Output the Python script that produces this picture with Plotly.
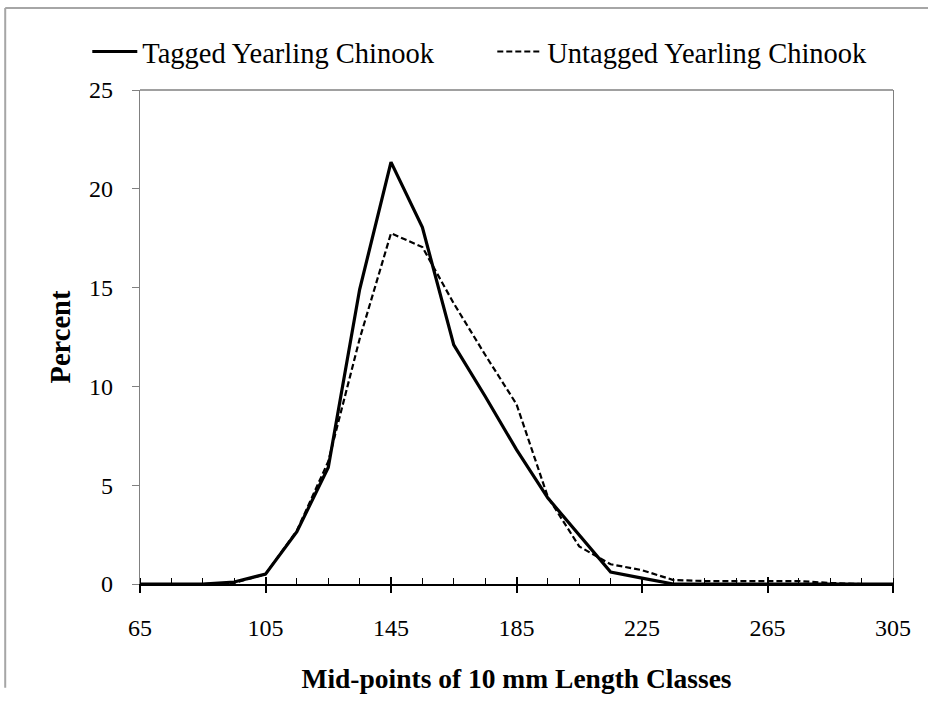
import plotly.graph_objects as go

length_classes = [65, 75, 85, 95, 105, 115, 125, 135, 145, 155, 165, 175, 185,
                  195, 205, 215, 225, 235, 245, 255, 265, 275, 285, 295, 305]
tagged = [0.0, 0.0, 0.0, 0.1, 0.5, 2.65, 5.9, 14.9, 21.35, 18.05, 12.1, 9.5, 6.8,
          4.35, 2.5, 0.6, 0.3, 0.0, 0.0, 0.0, 0.0, 0.0, 0.0, 0.0, 0.0]
untagged = [0.0, 0.0, 0.0, 0.05, 0.5, 2.7, 6.2, 12.4, 17.75, 17.05, 14.2, 11.6, 9.1,
            4.4, 1.9, 1.0, 0.7, 0.2, 0.15, 0.15, 0.15, 0.15, 0.05, 0.0, 0.0]
x_ticks = [65, 105, 145, 185, 225, 265, 305]
y_ticks = [0, 5, 10, 15, 20, 25]

FONT = "Liberation Serif, Times New Roman, serif"

fig = go.Figure()
fig.add_trace(go.Scatter(x=length_classes, y=untagged, mode="lines",
                         name="Untagged Yearling Chinook",
                         line=dict(color="black", width=2.2, dash="6px,3px")))
fig.add_trace(go.Scatter(x=length_classes, y=tagged, mode="lines",
                         name="Tagged Yearling Chinook",
                         line=dict(color="black", width=3.2)))
# invisible trace carrying the inner part of the major ticks
fig.add_trace(go.Scatter(x=[length_classes[0], length_classes[-1]], y=[0, 0],
                         xaxis="x2", mode="lines", line=dict(width=0),
                         showlegend=False, hoverinfo="skip"))

fig.update_layout(
    width=928, height=701,
    paper_bgcolor="white", plot_bgcolor="white",
    margin=dict(l=140, r=35, t=90, b=114),
    font=dict(family=FONT, color="black", size=24),
    legend=dict(orientation="h", x=-0.07, xanchor="left", y=1.077, yanchor="middle",
                font=dict(size=28.5, family=FONT), traceorder="reversed",
                bgcolor="rgba(0,0,0,0)", entrywidth=345, itemwidth=45),
    xaxis=dict(range=[65, 305], tickmode="array", tickvals=x_ticks,
               ticktext=[str(v) for v in x_ticks],
               showgrid=False, zeroline=False, showline=True,
               linecolor="black", linewidth=1.5, mirror=False,
               ticks="outside", ticklen=7, tickcolor="black", tickwidth=1.5,
               ticklabelstandoff=14,
               minor=dict(dtick=10, tick0=65, ticks="inside", ticklen=6,
                          tickcolor="black", tickwidth=1.2),
               title=dict(text="<b>Mid-points of 10 mm Length Classes</b>",
                          font=dict(size=27.5, family=FONT), standoff=29)),
    xaxis2=dict(range=[65, 305], overlaying="x", side="bottom", anchor="y",
                tickmode="array", tickvals=x_ticks, showticklabels=False,
                showgrid=False, zeroline=False, showline=False,
                ticks="inside", ticklen=7, tickcolor="black", tickwidth=1.5),
    yaxis=dict(range=[0, 25], tickmode="array", tickvals=y_ticks,
               showgrid=False, zeroline=False, showline=True,
               linecolor="#808080", linewidth=1.3, mirror=True,
               ticks="outside", ticklen=7, tickcolor="#808080", tickwidth=1.3,
               ticklabelstandoff=14,
               title=dict(text="<b>Percent</b>", font=dict(size=28.5, family=FONT),
                          standoff=10)),
    shapes=[
        dict(type="line", xref="paper", yref="paper", x0=0, x1=1, y0=1, y1=1,
             line=dict(color="#808080", width=1.3)),
        dict(type="line", xref="paper", yref="paper", x0=-0.179, x1=1.05,
             y0=1.166, y1=1.166, line=dict(color="#a6a6a6", width=2)),
        dict(type="line", xref="paper", yref="paper", x0=-0.179, x1=-0.179,
             y0=1.166, y1=-0.21, line=dict(color="#a6a6a6", width=2)),
    ],
)

fig.write_html("out.html", config={"displayModeBar": False},
               post_script="document.body.style.margin='0';")
